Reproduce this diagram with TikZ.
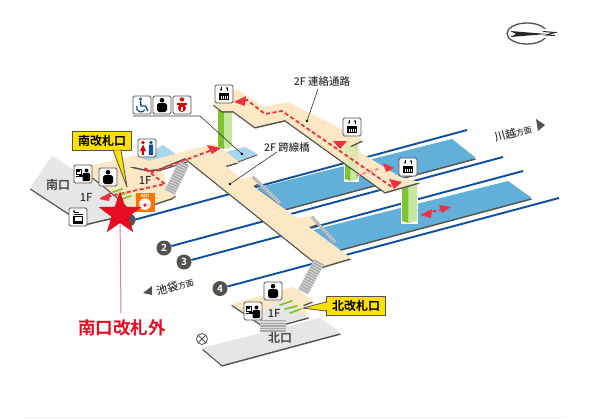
\documentclass[tikz,border=0pt]{standalone}
\usepackage{fontspec}
\setmainfont{Noto Sans CJK JP Medium}
\newfontfamily\cjkbold{Noto Sans CJK JP Bold}
\usetikzlibrary{shapes.geometric,arrows.meta}
\definecolor{beige}{HTML}{FDE8C6}
\definecolor{platblue}{HTML}{62B0DA}
\definecolor{paleblue}{HTML}{A8D6EF}
\definecolor{railblue}{HTML}{0B4EA2}
\definecolor{sidedark}{HTML}{55524E}
\definecolor{floorgray}{HTML}{E6E6E6}
\definecolor{labelyellow}{HTML}{FFE100}
\definecolor{gatedark}{HTML}{7FC332}
\definecolor{gatelight}{HTML}{C6E79E}
\definecolor{routered}{HTML}{F0303C}
\definecolor{starred}{HTML}{E60C22}
\definecolor{textdark}{HTML}{333333}
\definecolor{stairgray}{HTML}{A8A8A8}
\definecolor{stairpale}{HTML}{DADADA}
\tikzset{
  slab/.style={fill=#1,preaction={fill=sidedark,transform canvas={yshift=-1.6pt}}},
  railline/.style={draw=railblue,line width=1.9pt},
  numcircle/.style={circle,fill=sidedark,text=white,minimum size=15pt,inner sep=0pt,font=\cjkbold\fontsize{10}{10}\selectfont},
  iconbox/.style={draw=sidedark,fill=white,rounded corners=1.5pt,line width=.9pt,minimum size=18pt,inner sep=0pt},
  leader/.style={draw=textdark,line width=.6pt},
  lab/.style={text=textdark,inner sep=0pt,font=\fontsize{10.5}{11}\selectfont},
  floorlab/.style={text=textdark,inner sep=0pt,font=\fontsize{11}{11}\selectfont},
  exitlab/.style={text=black!70,inner sep=0pt,font=\cjkbold\fontsize{12}{12}\selectfont},
  gatelabel/.style={draw=sidedark,fill=labelyellow,line width=1pt,minimum width=59pt,minimum height=19pt,inner sep=0pt,text=black,font=\cjkbold\fontsize{12}{12}\selectfont},
  route/.style={draw=routered,line width=1.8pt,dash pattern=on 4pt off 2.6pt},
  routetip/.style={fill=routered},
  stairs/.style={draw=stairgray,dash pattern=on 1.4pt off 1.2pt},
  stairbase/.style={draw=stairpale},
  gate/.style={draw=gatedark,line width=1.7pt,line cap=round},
  dirtri/.style={fill=sidedark},
  elepic/.pic={
    \fill[black] (-5,-1.5) rectangle (5,6);
    \foreach \q in {-3,-1,1,3}{\draw[white,line width=.6pt] (\q,1.5)--(\q,5);}
    \draw[black,line width=.8pt,-{Stealth[length=2.6pt]}] (-3,-7.5)--(-3,-2.8);
    \draw[black,line width=.8pt,-{Stealth[length=2.6pt]}] (3,-2.8)--(3,-7.5);
  },
  personpic/.pic={
    \fill[black] (0,-4.8) circle (2.3);
    \fill[black,rounded corners=1.8pt] (-5,-2) rectangle (5,7);
  },
  servicepic/.pic={
    \draw[black,line width=.7pt] (-7,-5) rectangle (-2,0);
    \draw[black,line width=.7pt] (-7,2)--(-2,2);
    \fill[black] (-6,-4)rectangle(-3,-2);
    \fill[black] (3.5,-3.5) circle (2);
    \fill[black,rounded corners=1pt] (-.5,-1) rectangle (7,7);
    \fill[black] (-4,1) rectangle (0,3);
  },
  ticketpic/.pic={
    \fill[black] (-5,-1.5) rectangle (5,6.5);
    \fill[white] (-3.5,.2) rectangle (3.5,3.5);
    \fill[black] (-4,-5) rectangle (1,-4);
    \fill[black] (-4,-6) circle (1);
    \draw[black,line width=.6pt] (-4.5,-3)--(4.5,-3);
  },
  toiletpic/.pic={
    \fill[red!85!black] (-4,-5.5) circle (1.8);
    \fill[red!85!black] (-4,-3.5)--(-7,3)--(-1,3)--cycle;
    \fill[red!85!black] (-5.2,2) rectangle (-2.8,7);
    \fill[railblue] (4,-5.5) circle (1.8);
    \fill[railblue,rounded corners=.6pt] (1.8,-3.5) rectangle (6.2,7);
  },
  wheelpic/.pic={
    \fill[railblue] (-1.5,-6) circle (1.7);
    \draw[railblue,line width=1.4pt] (-1.5,-4)--(-1,1)--(3.5,1)--(5.8,6);
    \draw[railblue,line width=1.2pt] (-5.2,1) arc[start angle=200,end angle=30,radius=4.5];
  },
  babypic/.pic={
    \fill[red!85!black] (0,-5.5) circle (2.2);
    \fill[red!85!black] (-5,-2.5) rectangle (5,0);
    \fill[red!85!black] (0,3) circle (4);
    \fill[white] (-1,2) rectangle (1,6);
  },
  aedpic/.pic={
    \node[text=white,inner sep=0pt,font=\cjkbold\fontsize{4.5}{5}\selectfont] at (0,-6) {AED};
    \fill[white] (0,2) circle (5.8);
    \fill[routered] (0,5.2) -- (-3.5,1) arc[start angle=180,end angle=-0,radius=1.75] arc[start angle=180,end angle=0,radius=1.75] -- cycle;
  },
}
\newcommand{\pillar}[4]{% x1 x2 ytop ybottom
  \fill[white] (#1-.8,#3) rectangle (#2+.8,#4+1.5);
  \fill[gatedark] (#1,#3) -- ({(#1+#2)/2-1},#3) -- ({(#1+#2)/2-1},#4+1) -- (#1,#4-1) -- cycle;
  \fill[gatelight] ({(#1+#2)/2-1},#3) -- (#2,#3) -- (#2,#4-1) -- ({(#1+#2)/2-1},#4+1) -- cycle;
}
\newcommand{\stairrun}[3]{% width, from, to
  \draw[stairbase,line width=#1pt] #2 -- #3;
  \draw[stairs,line width=#1pt] #2 -- #3;
}
\begin{document}
\begin{tikzpicture}[x=1pt,y=-1pt]
\useasboundingbox (0,0) rectangle (605,418);
\fill[white] (0,0) rectangle (605,418);
\draw[draw=black!8!blue!6!white,line width=.8pt] (25,417) -- (566,417);

% compass
\draw[sidedark,line width=1.3pt] (527,33.5) ellipse[x radius=20,y radius=10.5];
\fill[white] (543,29) rectangle (551,38);
\fill[black!85] (510,31) -- (547,34) -- (510,37) -- (516,34) -- cycle;
\draw[black!85,line width=1pt] (543,31.5) -- (555,32.5) -- (546,35) -- (555,35.5);

% rails
\node[numcircle] (n2) at (164,248) {2};
\node[numcircle] (n3) at (184,262) {3};
\node[numcircle] (n4) at (220,288.5) {4};
\coordinate (r1a) at (130,221); \coordinate (r1b) at (467,130);
\coordinate (r2b) at (503,157);
\coordinate (r3b) at (523,171);
\coordinate (r4b) at (559,198);
\draw[railline] (r1a) -- (r1b);
\draw[railline] (n2) -- (r2b);
\draw[railline] (n3) -- (r3b);
\draw[railline] (n4) -- (r4b);

% platforms
\path[slab=platblue] (257,188) -- (452,139) -- (476,158) -- (285,209) -- cycle;
\path[slab=platblue] (313,230) -- (508,181) -- (532,198) -- (338,250) -- cycle;

% south exit
\path[slab=floorgray] (30,188) -- (52,156) -- (84,176) -- (116,196) -- (135,205) -- (132,213) -- (85,224) -- cycle;
\fill[sidedark] (129,220) circle (6.5);
% 1F south plate
\path[slab=beige] (80,168) -- (142,154) -- (160,160) -- (166,185) -- (176,195) -- (172,198) -- (132,211) -- (116,196) -- (100,183) -- cycle;
\fill[paleblue] (140,158) -- (163,145) -- (176,154) -- (153,162) -- cycle;
\draw[sidedark,line width=1.2pt] (158,171) -- (187,162);
\stairrun{11}{(184,163)}{(170,192)}
% main 2F walkway + bridge
\path[slab=beige] (130,166) -- (212,144) -- (218,145) -- (227,152) -- (238,162) -- (225,166) -- (212,155) --
  (242,179) -- (253,176) -- (261,182) -- (253,186) -- (297,218) -- (312,216) -- (320,223) -- (309,227) -- (351,258) --
  (321,267) -- (185,158) -- (158,169) -- (148,170) -- cycle;
\fill[paleblue,draw=sidedark!40,line width=.2pt] (227,152) -- (245,147) -- (257,154) -- (238,161) -- cycle;
\draw[sidedark,line width=1pt] (238,162) -- (257,155);
% thin stairs on the bridge
\stairrun{3}{(253,177)}{(280,203)}
\stairrun{3}{(312,217)}{(335,242)}
% stairs down to north side
\stairrun{11}{(319,262)}{(303,292)}

% north exit and plate
\path[slab=floorgray] (202,348) -- (320,318) -- (341,333) -- (222,365) -- cycle;
\path[slab=beige] (231,304) -- (293,287) -- (313,301) -- (303,305) -- (309,317) -- (287,323) -- (262,325) -- cycle;
\fill[floorgray] (253,317) -- (282,300) -- (308,317) -- (287,323) -- (262,325) -- cycle;
\stairrun{26}{(273,320)}{(273,332)}

% pillars
\pillar{218}{232}{110}{148}
\pillar{402}{417}{184}{222}
\pillar{345}{358}{137}{180}

% upper walkway
\path[slab=beige] (213,104) -- (237,89) -- (263,107) -- (288,102) -- (363,140) -- (350,146) -- (400,177) -- (420,182) -- (385,192) -- (285,120) -- (255,127) -- (233,111) -- (222,111) -- cycle;
\fill[gatelight,opacity=.5] (345,143) -- (350,146) -- (358,151) -- (358,172.6) -- (345,163) -- cycle;

% routes
\draw[route] (101,198) -- (165,184) -- (144,168) -- (153,172) -- (212,150);
\fill[routetip] (99,199) -- (111,192) -- (109,201) -- cycle;
\fill[routetip] (221,148) -- (207,145) -- (212,154) -- cycle;
\draw[route] (238,102) -- (247,100) -- (265,114) -- (282,111) -- (392,187) -- (400,183);
\fill[routetip] (234,102) -- (246,96) -- (245,106) -- cycle;
\fill[routetip] (333,141) -- (347,141) -- (340,149) -- cycle;
\fill[routetip] (402,182) -- (389,179) -- (394,189) -- cycle;
\fill[routetip] (394,168) -- (383,163) -- (386,172) -- cycle;
\draw[route,routered!60] (356,176) -- (378,169);
\draw[route] (426,213) -- (444,209);
\fill[routetip] (420,215) -- (432,209) -- (431,218) -- cycle;
\fill[routetip] (451,207) -- (439,205) -- (442,213) -- cycle;

% gates
\draw[gate] (113,192) -- (122,189);
\draw[gate] (118,196) -- (126,193);
\draw[gate] (122,199) -- (131,196);
\draw[gate] (280,305) -- (292,301);
\draw[gate] (285,309) -- (297,306);
\draw[gate] (290,313) -- (301,309);

% leaders
\coordinate (pdot) at (242,154);
\coordinate (wbend) at (200,116);
\coordinate (wstart) at (133,116);
\draw[leader] (wstart) -- (wbend) -- (pdot);
\fill[black] (pdot) circle (1.3);
\coordinate (bdot) at (230,184);
\coordinate (udot) at (307,121);
\fill[black] (bdot) circle (1.3);
\fill[black] (udot) circle (1.3);

% icons
\node[iconbox] (e1) at (224,94) {}; \pic at (e1) {elepic};
\node[iconbox] (e2) at (352,127) {}; \pic at (e2) {elepic};
\node[iconbox] (e3) at (408,167) {}; \pic at (e3) {elepic};
\node[iconbox] (iw) at (142,105) {}; \pic at (iw) {wheelpic};
\node[iconbox] (ib) at (162,105) {}; \pic at (ib) {personpic};
\node[iconbox] (ic) at (182,105) {}; \pic at (ic) {babypic};
\node[iconbox] (it) at (147,148) {}; \pic at (it) {toiletpic};
\node[iconbox] (is) at (83,174) {}; \pic at (is) {servicepic};
\node[iconbox] (ip) at (108,177) {}; \pic at (ip) {personpic};
\node[iconbox] (im) at (78,217) {}; \pic at (im) {ticketpic};
\node[fill=orange!90!red,minimum size=19pt,inner sep=0pt] (ia) at (145,202) {}; \pic at (ia) {aedpic};
\node[iconbox] (np) at (273,291) {}; \pic at (np) {personpic};
\node[iconbox] (ns) at (253,311) {}; \pic at (ns) {servicepic};

% gate labels
\coordinate (stip) at (127,187);
\coordinate (ntip) at (303,308);
\node[gatelabel] (sg) at (102,140.5) {南改札口};
\node[gatelabel] (ng) at (356,306) {北改札口};
\fill[labelyellow,draw=sidedark,line width=.8pt,line join=round] (113,150) -- (stip) -- (121,150) -- cycle;
\fill[labelyellow,draw=sidedark,line width=.8pt,line join=round] (326,302) -- (ntip) -- (326,311) -- cycle;
\fill[labelyellow] (113.6,148) rectangle (120.4,150);
\fill[labelyellow] (325,302.6) rectangle (327,310.4);

% texts
\node[lab] (tu) at (322,82) {2F 連絡通路};
\node[lab] (tb) at (287,148) {2F 跨線橋};
\draw[leader] (318,89) -- (udot);
\draw[leader] (277,152) -- (bdot);
\node[exitlab] (ts) at (58,185) {南口};
\node[exitlab] (tn) at (280,338) {北口};
\node[floorlab] (f1) at (86,197) {1F};
\node[floorlab] (f2) at (145,180) {1F};
\node[floorlab] (f3) at (274,313) {1F};
\node[inner sep=0pt,text=textdark,rotate=15,font=\fontsize{11}{11}\selectfont] (dk) at (513,133) {川越{\fontsize{8}{8}\selectfont 方面}};
\fill[dirtri] (536,119) -- (545,125) -- (538,131) -- cycle;
\node[inner sep=0pt,text=textdark,rotate=15,font=\fontsize{11}{11}\selectfont] (di) at (175,286.5) {池袋{\fontsize{8}{8}\selectfont 方面}};
\fill[dirtri] (143,293) -- (152,286) -- (152,295) -- cycle;
\draw[sidedark,line width=.8pt] (202,339) circle (5.5);
\draw[sidedark,line width=.8pt] (198.2,335.2) -- (205.8,342.8) (205.8,335.2) -- (198.2,342.8);

% star
\node[star,star points=5,star point ratio=2.5,minimum size=45pt,inner sep=0pt] (st) at (120,214) {};
\node[text=starred,inner sep=0pt,font=\cjkbold\fontsize{17.5}{18}\selectfont] (out) at (122,328) {南口改札外};
\coordinate (lineend) at (121,313);
\draw[draw=starred!55!white,line width=1pt] (st) -- (lineend);
\node[star,star points=5,star point ratio=2.5,minimum size=45pt,inner sep=0pt,fill=starred] at (120,214) {};
\end{tikzpicture}
\end{document}
